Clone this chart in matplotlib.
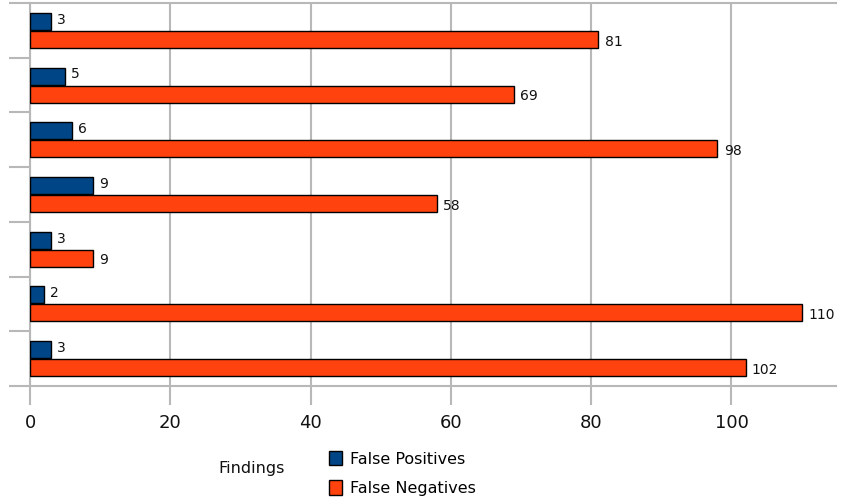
import matplotlib
matplotlib.use("Agg")
import matplotlib.pyplot as plt
import numpy as np
from matplotlib.patches import Patch

categories = ["Cat 1", "Cat 2", "Cat 3", "Cat 4", "Cat 5", "Cat 6", "Cat 7"]
false_positives = [3, 5, 6, 9, 3, 2, 3]
false_negatives = [81, 69, 98, 58, 9, 110, 102]
xticks = [0, 20, 40, 60, 80, 100]

blue = "#004586"
orange = "#ff420e"
grid = "#b8b8b8"

fig = plt.figure(figsize=(8.46, 5.0), dpi=100)
ax = fig.add_axes([30/846, 1-386/500, 806/846, 383/500])

n = len(categories)
y = np.arange(n)
h = 0.31
off = 0.165
ax.barh(y - off, false_positives, height=h, color=blue, edgecolor="black", linewidth=1.0, zorder=3)
ax.barh(y + off, false_negatives, height=h, color=orange, edgecolor="black", linewidth=1.0, zorder=3)

for yi, v in zip(y - off, false_positives):
    ax.text(v + 0.9, yi - 0.03, str(v), va="center", ha="left", fontsize=10, color="#111111", zorder=4)
for yi, v in zip(y + off, false_negatives):
    ax.text(v + 0.9, yi + 0.04, str(v), va="center", ha="left", fontsize=10, color="#111111", zorder=4)

ax.set_xlim(0, 114.9)
ax.set_ylim(n - 0.5, -0.5)
ax.set_xticks(xticks)
ax.set_xticklabels([str(t) for t in xticks], fontsize=13, color="#111111")
ax.set_yticks(np.arange(n + 1) - 0.5)
ax.set_yticklabels([])
ax.tick_params(axis="x", length=14, width=1.5, color=grid, pad=6)
ax.tick_params(axis="y", length=15, width=1.5, color=grid)
ax.xaxis.grid(True, color=grid, linewidth=1.5, zorder=0)
ax.set_axisbelow(True)
ax.spines["right"].set_visible(False)
for s in ["top", "bottom", "left"]:
    ax.spines[s].set_color(grid)
    ax.spines[s].set_linewidth(1.5)

fig.text(218/846, 1-468/500, "Findings", fontsize=11.5, va="center", ha="left", color="#111111")
handles = [Patch(facecolor=blue, edgecolor="black", label="False Positives"),
           Patch(facecolor=orange, edgecolor="black", label="False Negatives")]
fig.legend(handles=handles, loc="upper left", bbox_to_anchor=(318/846, 1-440/500),
           frameon=False, fontsize=11.5, handlelength=0.8, handleheight=1.0,
           handletextpad=0.5, labelspacing=0.85, borderpad=0.2)

fig.savefig("out.png", dpi=100)
